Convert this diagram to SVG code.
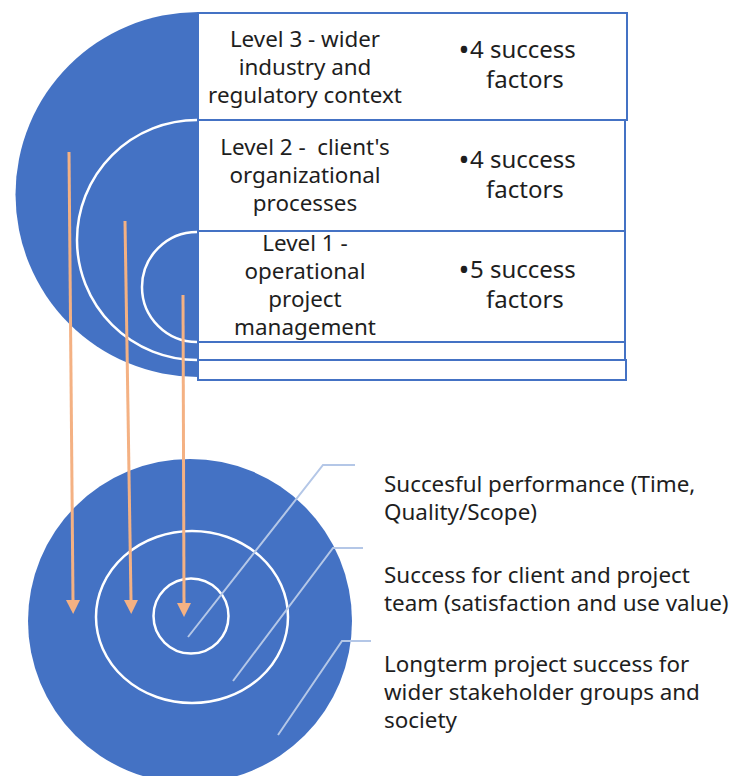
<svg xmlns="http://www.w3.org/2000/svg" width="734" height="776" viewBox="0 0 734 776">
  <style>
    .blue { fill: #4472C4; }
    .ring { fill: none; stroke: #FFFFFF; stroke-width: 2.5; }
    .row { fill: #FFFFFF; stroke: #4472C4; stroke-width: 2; }
    .t { font-family: "Noto Sans", "Open Sans", sans-serif; fill: #1E1E1E; }
    .lvl { font-size: 22.4px; text-anchor: middle; }
    .sf { font-size: 24px; }
    .bul { font-size: 29px; }
    .lab { font-size: 22.4px; }
    .arrow { stroke: #F4B183; stroke-width: 3; fill: none; marker-end: url(#ah); }
    .callout { stroke: #B4C7E7; stroke-width: 2; fill: none; }
  </style>
  <defs>
    <marker id="ah" markerUnits="userSpaceOnUse" markerWidth="15" markerHeight="15" refX="0" refY="7" orient="auto" viewBox="0 0 15 14">
      <path d="M0,0 L14,7 L0,14 Z" fill="#F4B183"/>
    </marker>
  </defs>

  <g id="top-circle">
    <path class="blue" d="M198,12 A182.5,182.5 0 0 0 198,377 Z"/>
    <path class="ring" d="M197,120 A120,120 0 0 0 197,360"/>
    <path class="ring" d="M197,232 A55,55 0 0 0 197,342"/>
  </g>

  <g id="level3">
    <rect class="row" x="198" y="13" width="429" height="107"/>
    <text class="t lvl" x="305" y="47">Level 3 - wider</text>
    <text class="t lvl" x="305" y="75">industry and</text>
    <text class="t lvl" x="305" y="103">regulatory context</text>
    <text class="t sf" y="58"><tspan class="bul" x="458.5" dy="2">•</tspan><tspan x="470" dy="-2">4 success</tspan></text>
    <text class="t sf" x="486" y="88">factors</text>
  </g>

  <g id="level2">
    <rect class="row" x="198" y="120" width="427" height="111"/>
    <text class="t lvl" x="305" y="155" xml:space="preserve">Level 2 -  client's</text>
    <text class="t lvl" x="305" y="183">organizational</text>
    <text class="t lvl" x="305" y="211">processes</text>
    <text class="t sf" y="168"><tspan class="bul" x="458.5" dy="2">•</tspan><tspan x="470" dy="-2">4 success</tspan></text>
    <text class="t sf" x="486" y="198">factors</text>
  </g>

  <g id="level1">
    <rect class="row" x="198" y="231" width="427" height="111"/>
    <text class="t lvl" x="305" y="251">Level 1 -</text>
    <text class="t lvl" x="305" y="279">operational</text>
    <text class="t lvl" x="305" y="307">project</text>
    <text class="t lvl" x="305" y="335">management</text>
    <text class="t sf" y="278"><tspan class="bul" x="458.5" dy="2">•</tspan><tspan x="470" dy="-2">5 success</tspan></text>
    <text class="t sf" x="486" y="308">factors</text>
  </g>

  <g id="empty-rows">
    <rect class="row" x="198" y="342" width="427" height="18"/>
    <rect class="row" x="198" y="360" width="428" height="20"/>
  </g>

  <g id="bottom-circle">
    <circle class="blue" cx="190" cy="621" r="162"/>
    <ellipse class="ring" cx="192" cy="617" rx="96" ry="86"/>
    <circle class="ring" cx="191" cy="616" r="37.5"/>
  </g>

  <g id="label-performance">
    <text class="t lab" x="384" y="492">Succesful performance (Time,</text>
    <text class="t lab" x="384" y="520">Quality/Scope)</text>
  </g>
  <g id="label-client">
    <text class="t lab" x="384" y="583">Success for client and project</text>
    <text class="t lab" x="384" y="611">team (satisfaction and use value)</text>
  </g>
  <g id="label-longterm">
    <text class="t lab" x="384" y="672">Longterm project success for</text>
    <text class="t lab" x="384" y="700">wider stakeholder groups and</text>
    <text class="t lab" x="384" y="728">society</text>
  </g>

  <g id="connectors">
    <line class="arrow" x1="69" y1="152" x2="73" y2="600"/>
    <line class="arrow" x1="125" y1="221" x2="131" y2="600"/>
    <line class="arrow" x1="183" y1="295" x2="184" y2="603"/>
    <polyline class="callout" points="188,637 323,465 355,465"/>
    <polyline class="callout" points="233,681 333,548 363,548"/>
    <polyline class="callout" points="278,735 342,641 371,641"/>
  </g>
</svg>
